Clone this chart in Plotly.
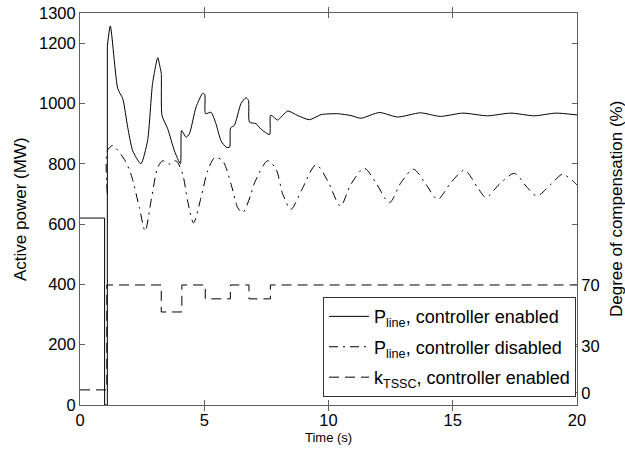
import plotly.graph_objects as go

# Active power, controller enabled (MW)
t_en = [0, 0.99, 0.99, 1.1, 1.1, 1.22, 1.52, 1.72, 1.92, 2.12, 2.45, 2.72, 2.92, 3.13, 3.22, 3.27, 3.30,
        3.53, 3.8, 4.04, 4.09, 4.27, 4.4, 4.67, 4.94, 5.02, 5.05, 5.27, 5.47, 5.67, 5.88, 6.02, 6.06,
        6.21, 6.48, 6.68, 6.78, 6.82, 7.08, 7.28, 7.63, 7.66, 7.72, 7.95, 8.36, 8.76, 9.23, 9.7,
        10.37, 10.9, 11.3, 12.05, 12.78, 13.7, 14.5, 15.4, 16.4, 17.34, 18.28, 19.15, 20.0]
p_en = [620, 620, 0, 0, 1190, 1257, 1049, 1016, 921, 843, 800, 877, 1066, 1152, 1121, 1100, 960,
        916, 843, 800, 910, 888, 899, 988, 1034, 1030, 966, 971, 933, 877, 855, 855, 919,
        927, 1000, 1019, 1010, 938, 933, 915, 897, 960, 960, 945, 975, 960, 946, 963,
        966, 960, 951, 970, 955, 969, 957, 968, 959, 968, 959, 968, 962]
STEP_END = 5  # first points form the straight pre-fault step

# Active power, controller disabled (MW)
t_dis = [1.1, 1.1, 1.31, 1.78, 2.05, 2.39, 2.62, 2.86, 3.13, 3.33, 3.6, 3.86, 4.13, 4.33, 4.57,
         4.87, 5.14, 5.43, 5.74, 6.08, 6.35, 6.55, 6.88, 7.0, 7.55, 7.89, 8.16, 8.49, 8.9, 9.5,
         9.97, 10.48, 10.9, 11.44, 11.9, 12.45, 12.92, 13.42, 13.92, 14.39, 14.93, 15.47, 16.0,
         16.34, 16.87, 17.48, 18.0, 18.39, 18.95, 19.42, 19.9, 20.0]
p_dis = [700, 843, 860, 815, 766, 654, 577, 677, 788, 810, 799, 810, 766, 677, 604,
         688, 777, 821, 810, 732, 654, 638, 699, 732, 810, 782, 699, 649, 710, 797,
         743, 660, 732, 785, 738, 671, 738, 782, 732, 682, 738, 779, 721,
         688, 732, 768, 721, 693, 732, 765, 738, 730]

# Degree of compensation k_TSSC (%)
t_k = [0, 1.08, 3.27, 4.1, 5.04, 6.05, 6.8, 7.66, 20]
k_val = [2, 70, 52.5, 70, 61, 70, 61, 70, 70]

left_ticks = [0, 200, 400, 600, 800, 1000, 1200, 1300]
right_ticks = [0, 30, 70]
x_ticks = [0, 5, 10, 15, 20]

FONT = "Liberation Sans, Arial, sans-serif"
AX = "#606060"

fig = go.Figure()
fig.add_trace(go.Scatter(
    x=t_en[:STEP_END], y=p_en[:STEP_END], mode="lines", legendgroup="a", showlegend=False,
    line=dict(color="black", width=1)))
fig.add_trace(go.Scatter(
    x=t_en[STEP_END - 1:], y=p_en[STEP_END - 1:], mode="lines", legendgroup="a",
    line=dict(color="black", width=1, shape="spline", smoothing=0.6),
    name="P<sub>line</sub>, controller enabled"))
fig.add_trace(go.Scatter(
    x=t_dis, y=p_dis, mode="lines", legendgroup="b",
    line=dict(color="black", width=1, shape="spline", smoothing=0.8, dash="9px,5px,2px,5px"),
    name="P<sub>line</sub>, controller disabled"))
fig.add_trace(go.Scatter(
    x=t_k, y=k_val, mode="lines", yaxis="y2", legendgroup="c",
    line=dict(color="black", width=1, shape="hv", dash="10px,6px"),
    name="k<sub>TSSC</sub>, controller enabled"))

axis_common = dict(showgrid=False, zeroline=False, showline=True, linecolor=AX,
                   linewidth=1, ticks="inside", ticklen=5, tickcolor=AX, automargin=False,
                   tickfont=dict(family=FONT, size=16.5, color="black"))

fig.update_layout(
    width=625, height=451,
    margin=dict(l=80, r=48, t=13, b=46, pad=0),
    paper_bgcolor="white", plot_bgcolor="white",
    font=dict(family=FONT, size=16, color="black"),
    showlegend=True,
    legend=dict(x=0.998, y=0.02, xanchor="right", yanchor="bottom",
                bgcolor="white", bordercolor="#333333", borderwidth=1,
                font=dict(family=FONT, size=18, color="black"),
                tracegroupgap=4, itemwidth=40),
    xaxis=dict(range=[0, 20], tickvals=x_ticks, mirror="allticks", **axis_common),
    yaxis=dict(range=[0, 1300], tickvals=left_ticks, mirror="allticks", **axis_common),
    yaxis2=dict(range=[-7.8, 246.3], tickvals=right_ticks, overlaying="y", side="right",
                **axis_common),
    annotations=[
        dict(text="Time (s)", xref="paper", yref="paper", x=0.5, y=0, yshift=-32,
             xanchor="center", yanchor="middle", showarrow=False,
             font=dict(family=FONT, size=13)),
        dict(text="Active power (MW)", xref="paper", yref="paper", x=0, y=0.5, xshift=-60,
             xanchor="center", yanchor="middle", textangle=-90, showarrow=False,
             font=dict(family=FONT, size=17)),
        dict(text="Degree of compensation (%)", xref="paper", yref="paper", x=1, y=0.5,
             xshift=39, xanchor="center", yanchor="middle", textangle=-90, showarrow=False,
             font=dict(family=FONT, size=17)),
    ],
)

fig.write_html("out.html", config={"displayModeBar": False},
               post_script="document.body.style.margin='0';document.body.style.padding='0';")
